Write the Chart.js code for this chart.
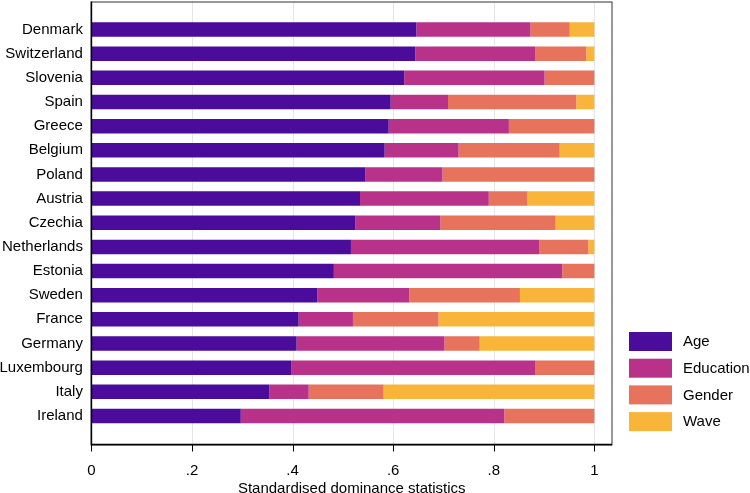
<!DOCTYPE html>
<html>
<head>
<meta charset="utf-8">
<script src="https://cdn.jsdelivr.net/npm/chart.js@4/dist/chart.umd.min.js"></script>
<style>
  html, body { margin: 0; padding: 0; background: #fff; }
</style>
</head>
<body>
<canvas id="chart" width="750" height="493"></canvas>
<script>
const countries = ['Denmark', 'Switzerland', 'Slovenia', 'Spain', 'Greece', 'Belgium', 'Poland', 'Austria',
    'Czechia', 'Netherlands', 'Estonia', 'Sweden', 'France', 'Germany', 'Luxembourg', 'Italy', 'Ireland'];
const age       = [.646, .644, .622, .595, .591, .583, .545, .534, .525, .516, .482, .449, .412, .408, .397, .354, .297];
const education = [.227, .238, .279, .114, .239, .147, .153, .256, .169, .374, .454, .183, .108, .294, .486, .078, .524];
const gender    = [.078, .102, .099, .255, .170, .201, .302, .077, .229, .098, .064, .220, .170, .070, .117, .149, .179];
const wave      = [.049, .016, 0, .036, 0, .069, 0, .133, .077, .012, 0, .148, .310, .228, 0, .419, 0];
const tickValues = [0, .2, .4, .6, .8, 1];
const tickLabels = ['0', '.2', '.4', '.6', '.8', '1'];

const FONT = "'Liberation Sans', Arial, sans-serif";

// stata-like frame, grid and tick marks (frame extends past the category band)
const framePlugin = {
    id: 'frame',
    beforeDatasetsDraw(chart) {
        const { ctx, chartArea: ca, scales: { x } } = chart;
        const top = ca.top - 16, bottom = ca.bottom + 16.5;
        ctx.save();
        ctx.strokeStyle = '#e6e6e6';
        ctx.lineWidth = 1;
        tickValues.slice(1).forEach(v => {
            const px = Math.round(x.getPixelForValue(v)) + 0.5;
            ctx.beginPath();
            ctx.moveTo(px, top);
            ctx.lineTo(px, bottom);
            ctx.stroke();
        });
        ctx.restore();
    },
    afterDatasetsDraw(chart) {
        const { ctx, chartArea: ca, scales: { x } } = chart;
        const top = ca.top - 16, bottom = ca.bottom + 16.5;
        const left = ca.left, right = x.getPixelForValue(1.035);
        ctx.save();
        ctx.strokeStyle = '#333';
        ctx.lineWidth = 1;
        ctx.strokeRect(left, top + 0.5, right - left, bottom - top);
        ctx.strokeStyle = '#000';
        ctx.lineWidth = 1.6;
        ctx.beginPath();
        ctx.moveTo(left, top);
        ctx.lineTo(left, bottom);
        ctx.lineTo(right, bottom);
        ctx.stroke();
        ctx.lineWidth = 1;
        tickValues.forEach(v => {
            const px = Math.round(x.getPixelForValue(v)) + 0.5;
            ctx.beginPath();
            ctx.moveTo(px, bottom);
            ctx.lineTo(px, bottom + 7);
            ctx.stroke();
        });
        ctx.restore();
    },
    afterDraw(chart) {
        // legend box, bottom right
        const ctx = chart.ctx;
        ctx.save();
        ctx.font = '15px ' + FONT;
        ctx.textBaseline = 'middle';
        chart.data.datasets.forEach((ds, i) => {
            const y = 332 + i * 26.7;
            ctx.fillStyle = ds.backgroundColor;
            ctx.fillRect(629, y, 43, 19);
            ctx.fillStyle = '#000';
            ctx.fillText(ds.label, 683, y + 10);
        });
        ctx.restore();
    }
};

new Chart(document.getElementById('chart'), {
    type: 'bar',
    data: {
        labels: countries,
        datasets: [
            { label: 'Age', data: age, backgroundColor: '#4b0b9b' },
            { label: 'Education', data: education, backgroundColor: '#b8328a' },
            { label: 'Gender', data: gender, backgroundColor: '#e8735d' },
            { label: 'Wave', data: wave, backgroundColor: '#f9b43a' }
        ]
    },
    options: {
        indexAxis: 'y',
        responsive: false,
        animation: false,
        devicePixelRatio: 1,
        layout: { padding: { top: 17, left: -9, right: 138, bottom: 0 } },
        datasets: { bar: { barPercentage: 0.6, categoryPercentage: 1, borderWidth: 0 } },
        scales: {
            x: {
                type: 'linear',
                stacked: true,
                min: 0,
                max: 1.035,
                grid: { display: false, drawTicks: false },
                border: { display: false },
                afterBuildTicks: axis => { axis.ticks = tickValues.map(v => ({ value: v })); },
                ticks: {
                    padding: 35.5,
                    color: '#000',
                    font: { family: FONT, size: 15, lineHeight: 1 },
                    callback: v => tickLabels[tickValues.indexOf(v)]
                },
                title: {
                    display: true,
                    text: 'Standardised dominance statistics',
                    color: '#000',
                    font: { family: FONT, size: 15, lineHeight: 0.8 },
                    padding: { top: -31.5, bottom: -1.5 }
                }
            },
            y: {
                stacked: true,
                grid: { display: false, drawTicks: false },
                border: { display: false },
                ticks: {
                    padding: 8.5,
                    color: '#000',
                    font: { family: FONT, size: 15 }
                }
            }
        },
        plugins: {
            legend: { display: false },
            tooltip: { enabled: false }
        }
    },
    plugins: [framePlugin]
});
</script>
</body>
</html>
